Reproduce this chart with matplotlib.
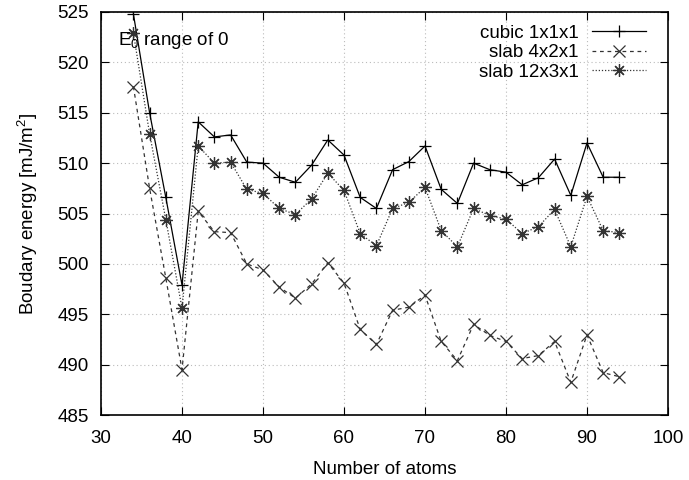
import matplotlib
matplotlib.use("Agg")
import matplotlib.pyplot as plt

plt.rcParams['font.family'] = ['Liberation Sans', 'DejaVu Sans']
plt.rcParams['mathtext.default'] = 'regular'
plt.rcParams['font.size'] = 13.5

atoms = list(range(34, 95, 2))
cubic = [524.8, 515.0, 506.6, 497.9, 514.1, 512.6, 512.8, 510.1, 510.0, 508.6,
         508.1, 509.8, 512.3, 510.8, 506.6, 505.5, 509.35, 510.15, 511.7, 507.4,
         506.0, 510.0, 509.35, 509.1, 507.85, 508.55, 510.4, 506.8, 512.0, 508.6, 508.6]
slab421 = [517.6, 507.5, 498.6, 489.5, 505.2, 503.2, 503.1, 500.0, 499.4, 497.7,
           496.6, 498.0, 500.1, 498.1, 493.5, 492.0, 495.4, 495.7, 496.9, 492.3,
           490.4, 494.0, 492.9, 492.3, 490.6, 490.9, 492.3, 488.25, 492.95, 489.2, 488.8]
slab1231 = [522.9, 512.9, 504.4, 495.6, 511.7, 510.0, 510.1, 507.4, 507.0, 505.5,
            504.9, 506.45, 509.0, 507.3, 503.0, 501.8, 505.5, 506.1, 507.6, 503.3,
            501.7, 505.5, 504.8, 504.45, 503.0, 503.7, 505.4, 501.7, 506.7, 503.3, 503.1]

labels = ["cubic 1x1x1", "slab 4x2x1", "slab 12x3x1"]

fig = plt.figure(figsize=(6.89, 4.80), dpi=100)
ax = fig.add_axes([0.1466, 0.1354, 0.8229, 0.8396])

ax.plot(atoms, cubic, color='black', lw=0.9, ls='-', marker='+', ms=9, mew=0.9, label=labels[0])
ax.plot(atoms, slab421, color='#333333', lw=0.9, ls=(0, (3, 3)), marker='x', ms=8, mew=0.9, label=labels[1])
ax.plot(atoms, slab1231, color='#333333', lw=0.9, ls=(0, (1, 1.5)), marker=(8, 2, 0), ms=9, mew=0.9, label=labels[2])

ax.set_xlim(30, 100)
ax.set_ylim(485, 525)
ax.set_xticks(range(30, 101, 10))
ax.set_yticks(range(485, 526, 5))
ax.grid(True, color='#bbbbbb', ls=(0, (1, 2.5)), lw=0.8)
ax.tick_params(axis='both', direction='in', top=True, right=True, length=6, width=0.8)
ax.tick_params(axis='x', pad=11)
ax.tick_params(axis='y', pad=9)
for s in ax.spines.values():
    s.set_linewidth(1.2)

ax.set_xlabel("Number of atoms", labelpad=10)
ax.set_ylabel("Boudary energy [mJ/m$^2$]", labelpad=12)

ax.text(0.03, 0.93, "E$_0$ range of 0", transform=ax.transAxes, ha='left', va='center')

leg = ax.legend(loc='upper right', bbox_to_anchor=(1.0, 1.022), frameon=False,
                markerfirst=False, handlelength=2.9,
                handletextpad=0.7, labelspacing=0.12, borderaxespad=0.75)
for t in leg.get_texts():
    t.set_ha('right')
leg._legend_box.align = 'right'

fig.savefig("out.png", dpi=100)
